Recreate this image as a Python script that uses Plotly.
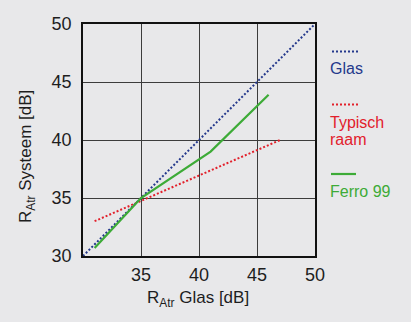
import plotly.graph_objects as go

# Sound insulation: R_Atr of the system vs. R_Atr of the glass
glas_x = [30, 50]
glas_y = [30, 50]

raam_x = [31, 47]
raam_y = [33, 40]

ferro_x = [31, 35, 41, 46]
ferro_y = [30.7, 35, 39, 43.9]

x_ticks = [35, 40, 45, 50]
y_ticks = [30, 35, 40, 45, 50]

BLUE = "#24388c"
RED = "#e2202b"
GREEN = "#3dab37"
BG = "#e8e8ea"
FONT = "Liberation Sans, Arial, sans-serif"

fig = go.Figure()
fig.add_trace(go.Scatter(x=glas_x, y=glas_y, mode="lines",
                         line=dict(color=BLUE, width=2, dash="2px,2px"), name="Glas"))
fig.add_trace(go.Scatter(x=raam_x, y=raam_y, mode="lines",
                         line=dict(color=RED, width=2, dash="2px,2px"), name="Typisch raam"))
fig.add_trace(go.Scatter(x=ferro_x, y=ferro_y, mode="lines",
                         line=dict(color=GREEN, width=2.2), name="Ferro 99"))

L, R, T, B = 83, 96, 24, 66
W, H = 411, 322
pw, ph = W - L - R, H - T - B


def px(x):
    return (x - L) / pw


def py(y):
    return (H - B - y) / ph


axis_common = dict(showgrid=True, gridcolor="#3c3c3c", gridwidth=1.3,
                   showline=True, linecolor="#111", linewidth=1.5, mirror=True,
                   zeroline=False, ticks="", fixedrange=True,
                   tickfont=dict(family=FONT, size=18, color="#1e1e1e"))

fig.update_layout(
    width=W, height=H,
    margin=dict(l=L, r=R, t=T, b=B, pad=0),
    paper_bgcolor=BG, plot_bgcolor=BG,
    showlegend=False,
    xaxis=dict(range=[30, 50], tickvals=x_ticks, ticktext=[str(v) for v in x_ticks],
               **axis_common),
    yaxis=dict(range=[30, 50], tickvals=y_ticks, ticktext=[str(v) for v in y_ticks],
               **axis_common),
)
fig.update_xaxes(ticklabelstandoff=2)
fig.update_yaxes(ticklabelstandoff=6)

# Axis titles
fig.add_annotation(xref="paper", yref="paper", x=px(198), y=py(299),
                   xanchor="center", yanchor="middle",
                   text="R<sub>Atr</sub> Glas [dB]", showarrow=False,
                   font=dict(family=FONT, size=17, color="#1e1e1e"))
fig.add_annotation(xref="paper", yref="paper", x=px(27), y=py(157),
                   xanchor="center", yanchor="middle",
                   text="R<sub>Atr</sub> Systeem [dB]", showarrow=False, textangle=-90,
                   font=dict(family=FONT, size=17, color="#1e1e1e"))

# Legend at the right: line sample above each label
legend_items = [
    ("Glas", BLUE, "dot", 51.5, ["Glas"], [68]),
    ("Typisch raam", RED, "dot", 104.5, ["Typisch", "raam"], [122, 139]),
    ("Ferro 99", GREEN, "solid", 174, ["Ferro 99"], [191]),
]
for label, color, style, sy, words, ty in legend_items:
    if style == "dot":
        fig.add_shape(type="line", xref="paper", yref="paper",
                      x0=px(332), x1=px(358), y0=py(sy), y1=py(sy),
                      line=dict(color=color, width=2, dash="2px,2px"))
    else:
        fig.add_shape(type="line", xref="paper", yref="paper",
                      x0=px(331), x1=px(356), y0=py(sy), y1=py(sy),
                      line=dict(color=color, width=2.2))
    for word, yy in zip(words, ty):
        fig.add_annotation(xref="paper", yref="paper", x=px(328), y=py(yy),
                           xanchor="left", yanchor="middle", text=word, showarrow=False,
                           font=dict(family=FONT, size=16, color=color))

fig.write_html("out.html")
